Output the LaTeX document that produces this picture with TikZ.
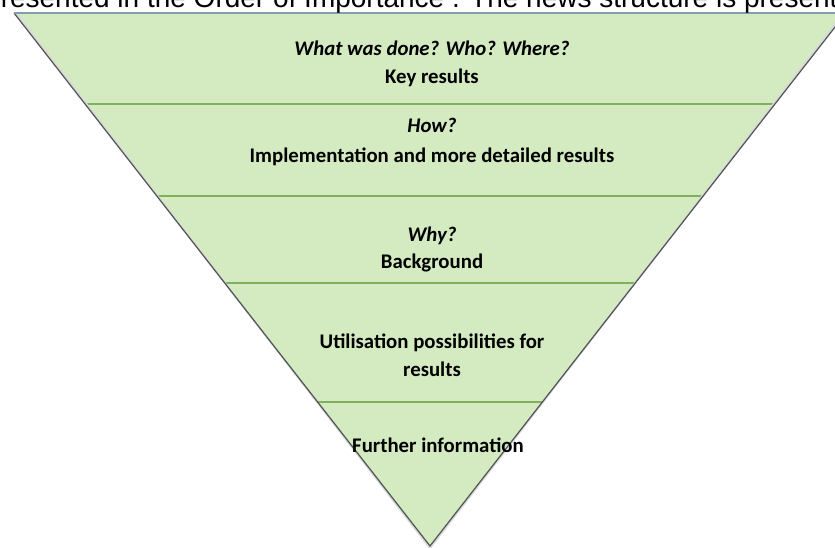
\documentclass[tikz,border=0pt]{standalone}
\usepackage{fontspec}
\setmainfont{Carlito}
\newfontfamily\headfont{Liberation Sans}
\definecolor{pyrfill}{RGB}{212,235,194}
\definecolor{pyrline}{RGB}{128,176,92}
\definecolor{pyredge}{RGB}{80,84,84}
\definecolor{pyrtop}{RGB}{130,158,170}
\tikzset{
  lbl/.style={font=\fontsize{20.8}{24}\selectfont\bfseries, text=black, inner sep=0pt, anchor=base},
  qlbl/.style={lbl, font=\fontsize{20.8}{24}\selectfont\bfseries\itshape},
  divider/.style={draw=pyrline, line width=1.3pt},
  edge/.style={draw=pyredge, line width=1.2pt},
}
\begin{document}
\begin{tikzpicture}[x=1pt,y=-1pt]
\useasboundingbox (0,0) rectangle (835,548);
\clip (0,0) rectangle (835,548);
\fill[white] (0,0) rectangle (835,548);
% triangle corners
\coordinate (tl) at (14,13);
\coordinate (tr) at (846,13);
\coordinate (ap) at (430,546);
\fill[pyrfill] (tl) -- (tr) -- (ap) -- cycle;
% dividers
\coordinate (d1l) at (85,104);  \coordinate (d1r) at (775,104);
\coordinate (d2l) at (157,196); \coordinate (d2r) at (703,196);
\coordinate (d3l) at (225,283); \coordinate (d3r) at (635,283);
\coordinate (d4l) at (318,402); \coordinate (d4r) at (542,402);
\draw[divider] (d1l) -- (d1r);
\draw[divider] (d2l) -- (d2r);
\draw[divider] (d3l) -- (d3r);
\draw[divider] (d4l) -- (d4r);
% edges
\draw[draw=white!70!gray, line width=2pt] ([xshift=2pt]tl) -- ([yshift=-2pt]ap) -- ([xshift=-2pt]tr);
\draw[edge] (tl) -- (ap) -- (tr);
\draw[draw=pyrtop, line width=1.5pt] (tl) -- (tr);
% heading (cut off at the top edge)
\node[font=\headfont\fontsize{28}{30}\selectfont, anchor=base west, inner sep=0pt] (head) at (-15,8) {presented in the Order of Importance . The news structure is presented};
% labels
\node[qlbl] (q1) at (432,56) {What was done? Who? Where?};
\node[lbl] (t1) at (432,84) {Key results};
\node[qlbl] (q2) at (432,133) {How?};
\node[lbl] (t2) at (432,163) {Implementation and more detailed results};
\node[qlbl] (q3) at (432,241) {Why?};
\node[lbl] (t3) at (432,268) {Background};
\node[lbl] (t4a) at (432,348) {Utilisation possibilities for};
\node[lbl] (t4b) at (432,376) {results};
\node[lbl] (t5) at (438,452) {Further information};
\end{tikzpicture}
\end{document}
